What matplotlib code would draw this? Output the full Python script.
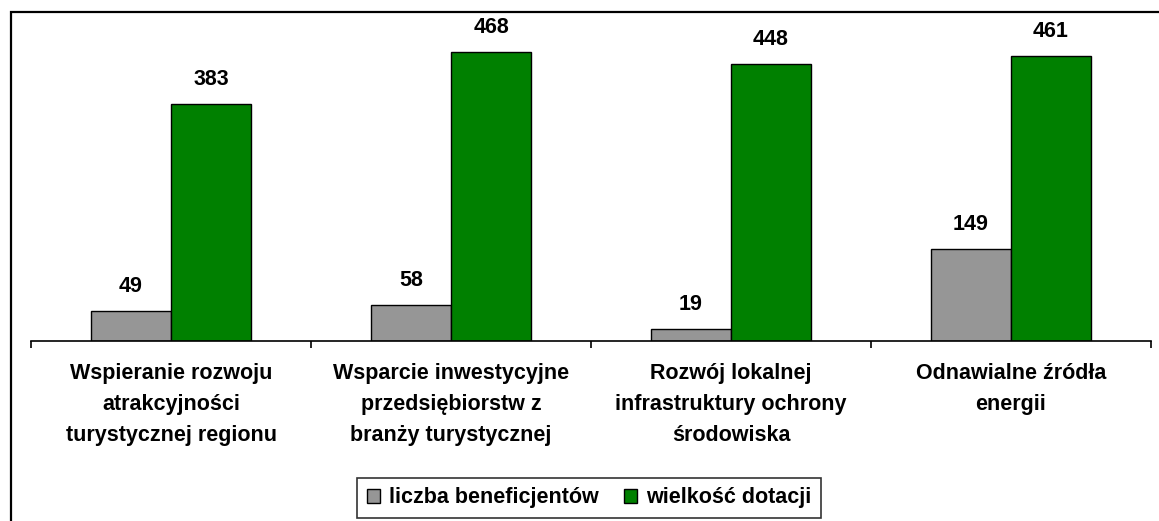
import matplotlib
matplotlib.use("Agg")
import matplotlib.pyplot as plt
import numpy as np
from matplotlib.patches import Rectangle

plt.rcParams['font.family'] = ['Liberation Sans', 'DejaVu Sans']

categories = [
    "Wspieranie rozwoju\natrakcyjności\nturystycznej regionu",
    "Wsparcie inwestycyjne\nprzedsiębiorstw z\nbranży turystycznej",
    "Rozwój lokalnej\ninfrastruktury ochrony\nśrodowiska",
    "Odnawialne źródła\nenergii",
]
beneficjenci = [49, 58, 19, 149]
dotacje = [383, 468, 448, 461]
series_names = ["liczba beneficjentów", "wielkość dotacji"]

W, H = 1159, 521
fs = 15.5
fig = plt.figure(figsize=(W / 100, H / 100), dpi=100)
fig.patch.set_facecolor('white')

# outer frame (cut off at right and bottom in the original)
fig.patches.append(Rectangle((11 / W, -0.1), 1.2, 1 - 12 / H + 0.1,
                             transform=fig.transFigure, fill=False,
                             edgecolor='black', lw=1.6))

ax = fig.add_axes([31 / W, 1 - 341 / H, 1120 / W, 309 / H])
x = np.arange(len(categories))
bw = 80 / 280

b1 = ax.bar(x - bw / 2, beneficjenci, bw, color='#969696', edgecolor='black',
            lw=1, label=series_names[0])
b2 = ax.bar(x + bw / 2, dotacje, bw, color='#008000', edgecolor='black',
            lw=1, label=series_names[1])

for bars in (b1, b2):
    for r in bars:
        ax.annotate(f"{int(r.get_height())}", (r.get_x() + r.get_width() / 2, r.get_height()),
                    xytext=(0, 10), textcoords='offset points', ha='center', va='bottom',
                    fontsize=fs, fontweight='bold')

ax.set_xlim(-0.5, len(categories) - 0.5)
ax.set_ylim(0, 500)
for s in ('top', 'right', 'left'):
    ax.spines[s].set_visible(False)
ax.spines['bottom'].set_linewidth(1.2)
ax.set_yticks([])

ax.set_xticks(np.arange(len(categories) + 1) - 0.5)
ax.set_xticklabels([])
ax.tick_params(axis='x', direction='out', length=5, width=1.2)
for i, c in enumerate(categories):
    ax.text(i, -36, c, ha='center', va='top', fontsize=fs, fontweight='bold',
            linespacing=1.62)

leg = fig.legend(handles=[b1, b2], loc='center', bbox_to_anchor=(589 / W, 1 - 498 / H),
                 ncol=2, frameon=True, fancybox=False, edgecolor='black',
                 prop={'size': fs, 'weight': 'bold'}, handlelength=0.6, handleheight=0.6,
                 handletextpad=0.4, columnspacing=1.2, borderpad=0.45, borderaxespad=0)
leg.get_frame().set_linewidth(1.2)

fig.savefig("out.png", dpi=100, facecolor='white')
